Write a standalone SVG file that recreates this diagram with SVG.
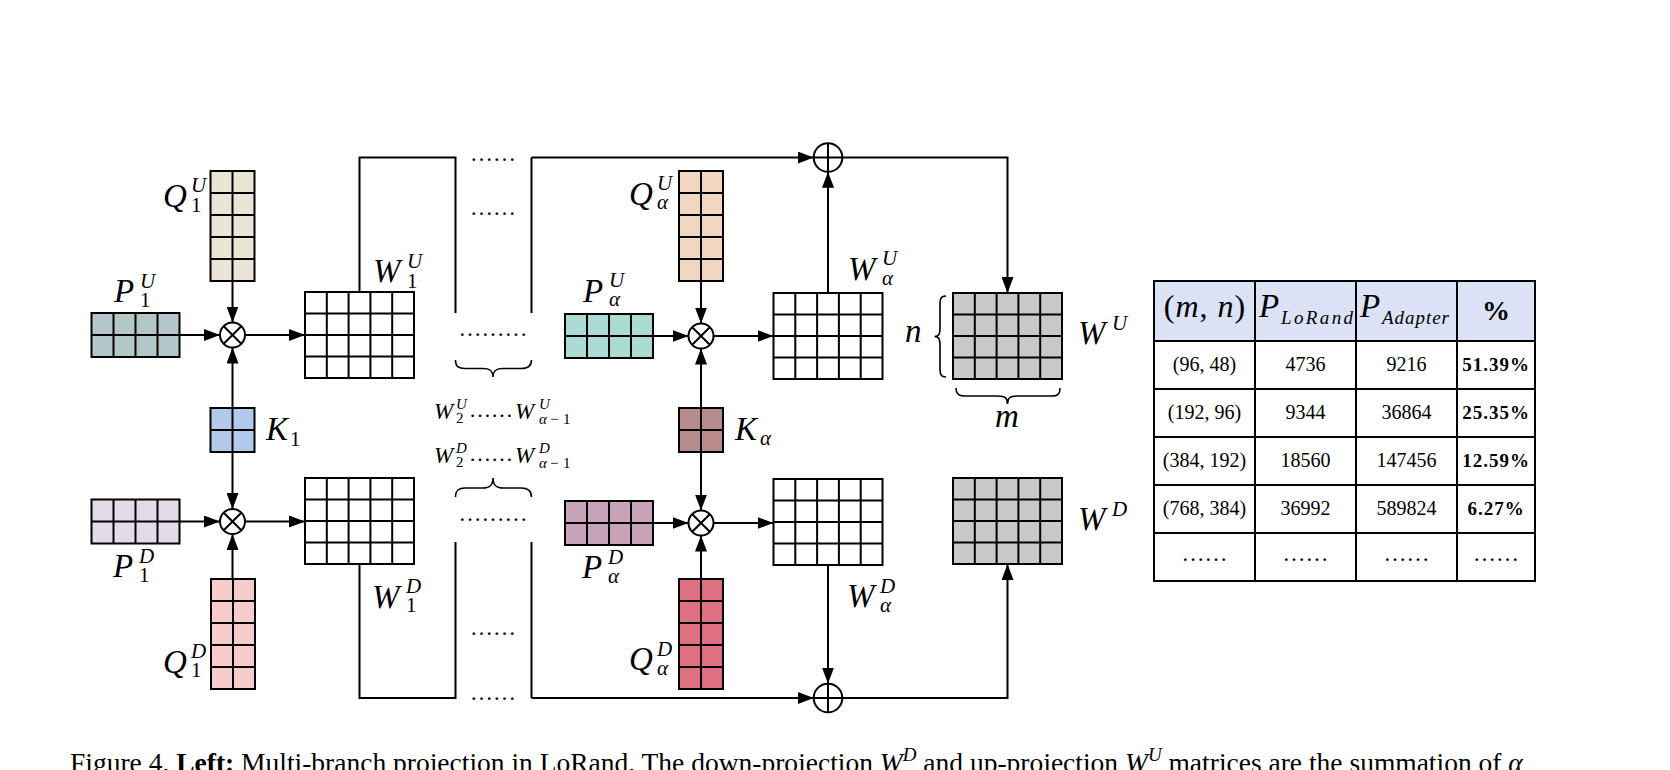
<svg xmlns="http://www.w3.org/2000/svg" width="1670" height="770" viewBox="0 0 1670 770">
<style>
.mx{stroke:#000;stroke-width:2}
.ln{stroke:#000;stroke-width:2;fill:none}
.ar{marker-end:url(#ah)}
.br{stroke:#000;stroke-width:1.6;fill:none}
.t{font-family:"Liberation Serif",serif;fill:#000}
.i{font-style:italic}
.L{font-size:33px}
.s{font-size:21px}
.ss{font-size:15px}
.d{font-family:"Liberation Serif",serif;font-size:23px;text-anchor:middle}
.c{font-family:"Liberation Serif",serif;font-size:20px;text-anchor:middle}
.pc{font-family:"Liberation Serif",serif;font-size:19px;font-weight:bold;text-anchor:middle;letter-spacing:1px}
.cap{font-family:"Liberation Serif",serif;font-size:27.5px}
</style>
<defs>
<marker id="ah" markerUnits="userSpaceOnUse" markerWidth="17" markerHeight="12" refX="16" refY="6" orient="auto"><path d="M0,0L16,6L0,12z" fill="#000"/></marker>
<g id="mQ"><rect width="44" height="110"/><path d="M22,0V110M0,22H44M0,44H44M0,66H44M0,88H44" fill="none"/></g>
<g id="mP"><rect width="88" height="44"/><path d="M22,0V44M44,0V44M66,0V44M0,22H88" fill="none"/></g>
<g id="mK"><rect width="44" height="44"/><path d="M22,0V44M0,22H44" fill="none"/></g>
<g id="mW"><rect width="109" height="86"/><path d="M21.8,0V86M43.6,0V86M65.4,0V86M87.2,0V86M0,21.5H109M0,43H109M0,64.5H109" fill="none"/></g>
<g id="otimes"><circle r="12.5" fill="#fff"/><path d="M-8.8,-8.8L8.8,8.8M-8.8,8.8L8.8,-8.8" fill="none"/></g>
<g id="oplus"><circle r="14.3" fill="#fff"/><path d="M-14.3,0H14.3M0,-14.3V14.3" fill="none"/></g>
</defs>

<g id="connectors">
<path class="ln ar" d="M179.5,335H220"/>
<path class="ln ar" d="M232.5,281V322.5"/>
<path class="ln ar" d="M232.5,408V347.5"/>
<path class="ln ar" d="M245,335H305"/>
<path class="ln ar" d="M232.5,452V509"/>
<path class="ln ar" d="M179.5,521.5H220"/>
<path class="ln ar" d="M232.5,579V534"/>
<path class="ln ar" d="M245,521.5H305"/>
<path class="ln" d="M359.5,292V157.5H455.5V313M531.5,313V157.5"/>
<path class="ln ar" d="M531.5,157.5H813.7"/>
<path class="ln" d="M359.5,564V698H455.5V542M531.5,542V698"/>
<path class="ln ar" d="M531.5,698H813.7"/>
<path class="ln ar" d="M653,336H688.5"/>
<path class="ln ar" d="M701,281V323.5"/>
<path class="ln ar" d="M701,408V348.5"/>
<path class="ln ar" d="M713.5,336H773.5"/>
<path class="ln ar" d="M701,452V510.5"/>
<path class="ln ar" d="M653,523H688.5"/>
<path class="ln ar" d="M701,579V535.5"/>
<path class="ln ar" d="M713.5,523H773.5"/>
<path class="ln ar" d="M828,293V171.8"/>
<path class="ln ar" d="M828,565V683.7"/>
<path class="ln ar" d="M842.3,157.5H1007.5V293"/>
<path class="ln ar" d="M842.3,698H1007.5V564"/>
</g>

<g id="hidden-branches">
<text class="d" x="493" y="161">……</text>
<text class="d" x="493" y="215">……</text>
<text class="d" x="493" y="336">………</text>
<path class="br" d="M455.5,360C455.5,367 459,368.5 465,368.5L483,368.5C489,368.5 493,370 493,377C493,370 497,368.5 503,368.5L521,368.5C527,368.5 531.5,367 531.5,360"/>
<text class="t" y="419"><tspan class="i" x="434" font-size="23px">W</tspan><tspan class="i ss" x="456" y="409">U</tspan><tspan class="ss" x="456" y="423">2</tspan><tspan x="469" y="417" font-size="22px">……</tspan><tspan class="i" x="515" y="419" font-size="23px">W</tspan><tspan class="i ss" x="539" y="409">U</tspan><tspan class="i ss" x="539" y="424">α</tspan><tspan class="ss" x="550" y="424">−</tspan><tspan class="ss" x="563" y="424">1</tspan></text>
<text class="t" y="463"><tspan class="i" x="434" font-size="23px">W</tspan><tspan class="i ss" x="456" y="453">D</tspan><tspan class="ss" x="456" y="467">2</tspan><tspan x="469" y="461" font-size="22px">……</tspan><tspan class="i" x="515" y="463" font-size="23px">W</tspan><tspan class="i ss" x="539" y="453">D</tspan><tspan class="i ss" x="539" y="468">α</tspan><tspan class="ss" x="550" y="468">−</tspan><tspan class="ss" x="563" y="468">1</tspan></text>
<path class="br" d="M455.5,497C455.5,490 459,488 465,488L483,488C489,488 493,486 493,478C493,486 497,488 503,488L521,488C527,488 531.5,490 531.5,497"/>
<text class="d" x="493" y="521">………</text>
<text class="d" x="493" y="635">……</text>
<text class="d" x="493" y="699.5">……</text>
</g>

<g id="Q1U"><use href="#mQ" x="210.5" y="171" class="mx" fill="#ebe5d5"/>
<text class="t"><tspan class="i L" x="163" y="207">Q</tspan><tspan class="i s" x="191" y="192">U</tspan><tspan class="s" x="191" y="212">1</tspan></text></g>
<g id="P1U"><use href="#mP" x="91.5" y="313" class="mx" fill="#b4c7c8"/>
<text class="t"><tspan class="i L" x="114" y="302">P</tspan><tspan class="i s" x="140" y="288">U</tspan><tspan class="s" x="140" y="307">1</tspan></text></g>
<g id="otimes1U"><use href="#otimes" x="232.5" y="335" class="mx"/></g>
<g id="W1U"><use href="#mW" x="305" y="292" class="mx" fill="#fff"/>
<text class="t"><tspan class="i L" x="373" y="282">W</tspan><tspan class="i s" x="407" y="268">U</tspan><tspan class="s" x="407" y="288">1</tspan></text></g>
<g id="K1"><use href="#mK" x="210.5" y="408" class="mx" fill="#b3c9ea"/>
<text class="t"><tspan class="i L" x="266" y="440">K</tspan><tspan class="s" x="290" y="446">1</tspan></text></g>
<g id="P1D"><use href="#mP" x="91.5" y="499.5" class="mx" fill="#e2dbe8"/>
<text class="t"><tspan class="i L" x="113" y="577">P</tspan><tspan class="i s" x="139" y="563">D</tspan><tspan class="s" x="139" y="582">1</tspan></text></g>
<g id="otimes1D"><use href="#otimes" x="232.5" y="521.5" class="mx"/></g>
<g id="W1D"><use href="#mW" x="305" y="478" class="mx" fill="#fff"/>
<text class="t"><tspan class="i L" x="372" y="608">W</tspan><tspan class="i s" x="406" y="593">D</tspan><tspan class="s" x="406" y="612">1</tspan></text></g>
<g id="Q1D"><use href="#mQ" x="211" y="579" class="mx" fill="#f8cbcb"/>
<text class="t"><tspan class="i L" x="163" y="673">Q</tspan><tspan class="i s" x="191" y="658">D</tspan><tspan class="s" x="191" y="677">1</tspan></text></g>

<g id="QaU"><use href="#mQ" x="679" y="171" class="mx" fill="#f1d6c2"/>
<text class="t"><tspan class="i L" x="629" y="205">Q</tspan><tspan class="i s" x="657" y="190">U</tspan><tspan class="i s" x="657" y="209">α</tspan></text></g>
<g id="PaU"><use href="#mP" x="565" y="314" class="mx" fill="#aadbd4"/>
<text class="t"><tspan class="i L" x="583" y="302">P</tspan><tspan class="i s" x="609" y="287">U</tspan><tspan class="i s" x="609" y="306">α</tspan></text></g>
<g id="otimesaU"><use href="#otimes" x="701" y="336" class="mx"/></g>
<g id="WaU"><use href="#mW" x="773.5" y="293" class="mx" fill="#fff"/>
<text class="t"><tspan class="i L" x="848" y="280">W</tspan><tspan class="i s" x="882" y="265">U</tspan><tspan class="i s" x="882" y="285">α</tspan></text></g>
<g id="Ka"><use href="#mK" x="679" y="408" class="mx" fill="#b78a8b"/>
<text class="t"><tspan class="i L" x="735" y="440">K</tspan><tspan class="i s" x="760" y="445">α</tspan></text></g>
<g id="PaD"><use href="#mP" x="565" y="501" class="mx" fill="#c7a2b8"/>
<text class="t"><tspan class="i L" x="582" y="578">P</tspan><tspan class="i s" x="608" y="564">D</tspan><tspan class="i s" x="608" y="583">α</tspan></text></g>
<g id="otimesaD"><use href="#otimes" x="701" y="523" class="mx"/></g>
<g id="WaD"><use href="#mW" x="773.5" y="479" class="mx" fill="#fff"/>
<text class="t"><tspan class="i L" x="847" y="607">W</tspan><tspan class="i s" x="880" y="593">D</tspan><tspan class="i s" x="880" y="612">α</tspan></text></g>
<g id="QaD"><use href="#mQ" x="679" y="579" class="mx" fill="#de7082"/>
<text class="t"><tspan class="i L" x="629" y="670">Q</tspan><tspan class="i s" x="657" y="656">D</tspan><tspan class="i s" x="657" y="675">α</tspan></text></g>

<g id="oplusU"><use href="#oplus" x="828" y="157.5" class="mx"/></g>
<g id="oplusD"><use href="#oplus" x="828" y="698" class="mx"/></g>

<g id="WU"><use href="#mW" x="953" y="293" class="mx" fill="#c8c8c8"/>
<path class="br" d="M946,296C940,296 940,300 940,306L940,328C940,334 939,336.5 934.5,336.5C939,336.5 940,339 940,345L940,367C940,373 940,377 946,377"/>
<path class="br" d="M956,388C956,395 960,396 966,396L998,396C1005,396 1007.5,398 1007.5,404C1007.5,398 1010,396 1017,396L1051,396C1057,396 1060,395 1060,388"/>
<text class="t i L" x="905" y="342">n</text>
<text class="t i L" x="995" y="427">m</text>
<text class="t"><tspan class="i L" x="1078" y="344">W</tspan><tspan class="i s" x="1112" y="330">U</tspan></text></g>
<g id="WD"><use href="#mW" x="953" y="478" class="mx" fill="#c8c8c8"/>
<text class="t"><tspan class="i L" x="1078" y="530">W</tspan><tspan class="i s" x="1112" y="516">D</tspan></text></g>

<g id="table">
<rect x="1154" y="281" width="381" height="300" fill="#fff"/>
<rect x="1154" y="281" width="381" height="60" fill="#dce2f5"/>
<path class="ln" d="M1154,341H1535M1154,389H1535M1154,437H1535M1154,485H1535M1154,533H1535M1255,281V581M1356,281V581M1457,281V581"/>
<rect x="1154" y="281" width="381" height="300" class="ln"/>
<text class="t" x="1205" y="317" text-anchor="middle" font-size="32px" letter-spacing="1px">(<tspan class="i">m</tspan>, <tspan class="i">n</tspan>)</text>
<text class="t"><tspan class="i L" x="1259" y="317">P</tspan><tspan class="i" x="1281" y="324" font-size="19px" textLength="72" lengthAdjust="spacing">LoRand</tspan></text>
<text class="t"><tspan class="i L" x="1360" y="317">P</tspan><tspan class="i" x="1382" y="324" font-size="19px" textLength="67" lengthAdjust="spacing">Adapter</tspan></text>
<text class="t" x="1496" y="320" text-anchor="middle" font-size="28px" font-weight="bold">%</text>
<text class="c" x="1204.5" y="371">(96, 48)</text>
<text class="c" x="1305.5" y="371">4736</text>
<text class="c" x="1406.5" y="371">9216</text>
<text class="pc" x="1496" y="371">51.39%</text>
<text class="c" x="1204.5" y="419">(192, 96)</text>
<text class="c" x="1305.5" y="419">9344</text>
<text class="c" x="1406.5" y="419">36864</text>
<text class="pc" x="1496" y="419">25.35%</text>
<text class="c" x="1204.5" y="467">(384, 192)</text>
<text class="c" x="1305.5" y="467">18560</text>
<text class="c" x="1406.5" y="467">147456</text>
<text class="pc" x="1496" y="467">12.59%</text>
<text class="c" x="1204.5" y="515">(768, 384)</text>
<text class="c" x="1305.5" y="515">36992</text>
<text class="c" x="1406.5" y="515">589824</text>
<text class="pc" x="1496" y="515">6.27%</text>
<text class="d" x="1204.5" y="561">……</text>
<text class="d" x="1305.5" y="561">……</text>
<text class="d" x="1406.5" y="561">……</text>
<text class="d" x="1496" y="561">……</text>
</g>

<text class="cap" x="70" y="772">Figure 4. <tspan font-weight="bold">Left:</tspan> Multi-branch projection in LoRand. The down-projection <tspan font-style="italic">W</tspan><tspan font-size="19px" font-style="italic" dy="-11">D</tspan><tspan dy="11"> and up-projection </tspan><tspan font-style="italic">W</tspan><tspan font-size="19px" font-style="italic" dy="-11">U</tspan><tspan dy="11"> matrices are the summation of </tspan><tspan font-style="italic">α</tspan></text>
</svg>
